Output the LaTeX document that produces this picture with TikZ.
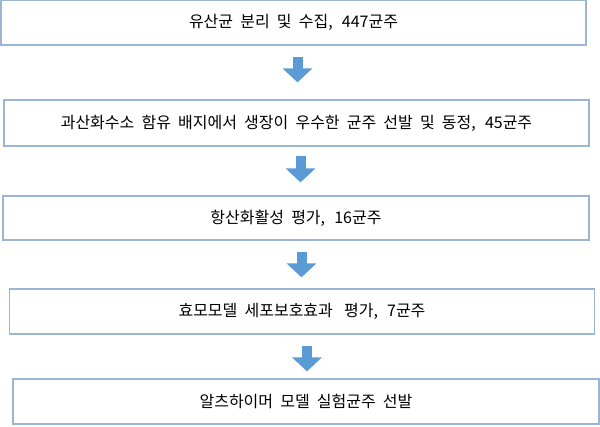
\documentclass[tikz,border=0pt]{standalone}
\usepackage{fontspec}
\setmainfont[WordSpace=2]{Noto Sans CJK KR}
\usetikzlibrary{arrows.meta, positioning}

\definecolor{boxline}{HTML}{9BB5D3}
\definecolor{arrowblue}{HTML}{5B9BD5}

\begin{document}
\begin{tikzpicture}[
    x=1pt, y=-1pt,
    box/.style={draw=boxline, line width=1.2pt, rectangle, minimum height=45pt,
        minimum width=585pt, inner sep=0pt, font=\fontsize{16pt}{19pt}\selectfont}, % Style for steps
    flowarrow/.style={draw=arrowblue, line width=10pt,
        -{Triangle[width=29pt, length=14pt, fill=arrowblue]}} % Style for block arrows
]

    % Frame of the picture
    \useasboundingbox (0,0) rectangle (600,426);

    % Steps
    \node[box, minimum height=44.5pt] (collect) at (293.5, 22.75) {유산균 분리 및 수집,\hspace{2pt} 447균주};
    \node[box, minimum height=46pt] (select) at (296.5, 123) {과산화수소 함유 배지에서 생장이 우수한 균주 선발 및 동정,\hspace{2pt} 45균주};
    \node[box, minimum width=586pt, minimum height=44pt] (antiox) at (296, 218) {항산화활성 평가,\hspace{2pt} 16균주};
    \node[box] (yeast) at (302, 311.5) {효모모델 세포보호효과\hspace{4pt} 평가,\hspace{2pt} 7균주};
    \node[box, minimum width=586pt] (final) at (306, 401.5) {알츠하이머 모델 실험균주 선발};

    % Arrows between steps
    \draw[flowarrow, shorten <=11pt, shorten >=17pt] ([xshift=4pt]collect.south) -- ([xshift=4pt]collect.south |- select.north);
    \draw[flowarrow, shorten <=9pt, shorten >=13pt] ([xshift=4pt]select.south) -- ([xshift=4pt]select.south |- antiox.north);
    \draw[flowarrow, shorten <=11pt, shorten >=11pt] ([xshift=5.5pt]antiox.south) -- ([xshift=5.5pt]antiox.south |- yeast.north);
    \draw[flowarrow, shorten <=11pt, shorten >=7pt] ([xshift=5pt]yeast.south) -- ([xshift=5pt]yeast.south |- final.north);

\end{tikzpicture}
\end{document}
